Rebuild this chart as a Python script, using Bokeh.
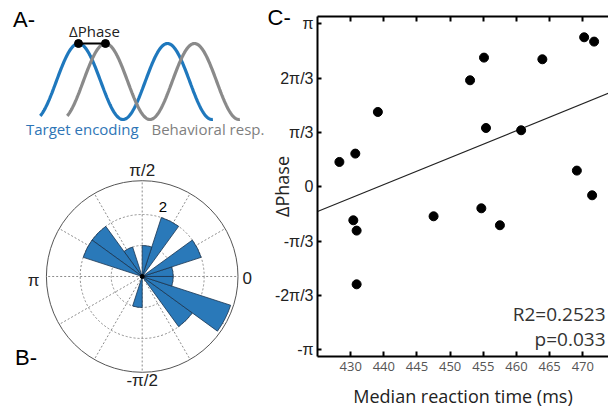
import numpy as np
from bokeh.plotting import figure
from bokeh.models import Range1d, LinearAxis, FixedTicker, Label, Title
from bokeh.layouts import row, column
from bokeh.embed import file_html
from bokeh.resources import INLINE

# ---------------- data ----------------
# Panel C: median reaction time (ms) vs phase difference (rad)
rt_ms = [433.3, 435.7, 439.1, 453.0, 455.1, 455.4, 460.7, 463.9, 470.2, 471.7,
         469.1, 471.4, 435.4, 435.9, 435.9, 447.5, 454.7, 457.5]
dphase = [0.479, 0.640, 1.443, 2.054, 2.491, 1.134, 1.090, 2.459, 2.883, 2.800,
          0.312, -0.164, -0.646, -0.845, -1.881, -0.569, -0.415, -0.742]
fit_x = [430.0, 473.9]
fit_y = [-0.476, 1.805]
x_ticks = [435, 440, 445, 450, 455, 460, 465, 470]
x_tick_labels = ["430", "440", "445", "450", "455", "460", "465", "470"]
y_ticks = [-np.pi, -2 * np.pi / 3, -np.pi / 3, 0.0, np.pi / 3, 2 * np.pi / 3, np.pi]
y_tick_labels = ["-π", "-2π/3", "-π/3", "0", "π/3", "2π/3", "π"]
stats_text = ["R2=0.2523", "p=0.033"]

# Panel B: rose histogram, 20 bins of 18 degrees starting at 0
bin_width_deg = 18
bin_counts = [1, 2, 0, 2, 1, 0, 1, 2, 2, 0, 0, 0, 0, 0, 1, 0, 0, 2, 3, 1]
ring_radii = [1, 2]
outer_radius = 3.09
spoke_deg = [0, 30, 60, 90, 120, 150, 180, 210, 240, 270, 300, 330]
polar_labels = ["π/2", "0", "π", "-π/2"]

# Panel A: schematic
phase_shift_cycles = 0.303

COND = "Liberation Sans"
SANS = "Open Sans"
ARIAL = "Liberation Sans"

LEFT_W = 266

# ---------------- panel A ----------------
pa = figure(width=LEFT_W, height=140, x_range=Range1d(-78 / 89, (LEFT_W - 78) / 89),
            y_range=Range1d(-59 / 38, 81 / 38), output_backend="svg",
            toolbar_location=None, x_axis_type=None, y_axis_type=None,
            min_border=0, outline_line_color=None)
pa.grid.visible = False
t = np.linspace(-0.43, 1.51, 300)
wave = np.cos(2 * np.pi * t)
pa.line(t, wave, line_color="#1f78bd", line_width=3.2)
pa.line(t + phase_shift_cycles, wave, line_color="#8a8a8a", line_width=3.2)
pa.line([0, phase_shift_cycles], [1, 1], line_color="black", line_width=2)
pa.scatter([0, phase_shift_cycles], [1, 1], size=8, color="black")
pa.add_layout(Label(x=-0.735, y=1.62, text="A-", text_font=ARIAL, text_font_size="22px",
                    text_baseline="middle", text_align="left", text_color="black"))
pa.add_layout(Label(x=0.18, y=1.33, text="ΔPhase", text_font=SANS, text_font_size="15px",
                    text_baseline="middle", text_align="center", text_color="#222222"))
pa.add_layout(Label(x=-0.59, y=-1.24, text="Target encoding", text_font=SANS,
                    text_font_size="15px", text_baseline="middle", text_align="left",
                    text_color="#2e75b6"))
pa.add_layout(Label(x=0.82, y=-1.24, text="Behavioral resp.", text_font=SANS,
                    text_font_size="15px", text_baseline="middle", text_align="left",
                    text_color="#7f7f7f"))

# ---------------- panel B ----------------
pb = figure(width=LEFT_W, height=271, x_range=Range1d(-141.7 / 31, (LEFT_W - 141.7) / 31),
            y_range=Range1d(-4.355, 4.387), output_backend="svg",
            toolbar_location=None, x_axis_type=None, y_axis_type=None,
            min_border=0, outline_line_color=None)
pb.grid.visible = False
sp = np.radians(spoke_deg)
pb.segment(x0=0, y0=0, x1=outer_radius * np.cos(sp), y1=outer_radius * np.sin(sp),
           line_color="#8c8c8c", line_dash="2 2", line_width=1)
pb.circle(x=[0] * len(ring_radii), y=[0] * len(ring_radii), radius=ring_radii,
          fill_color=None, line_color="#8c8c8c", line_dash="2 2", line_width=1)
pb.circle(x=[0], y=[0], radius=[outer_radius], fill_color=None,
          line_color="#555555", line_width=1)
starts, ends, rads = [], [], []
for k, c in enumerate(bin_counts):
    if c > 0:
        starts.append(np.radians(k * bin_width_deg))
        ends.append(np.radians((k + 1) * bin_width_deg))
        rads.append(c)
pb.wedge(x=0, y=0, radius=rads, start_angle=starts, end_angle=ends,
         fill_color="#2a79b9", line_color="#1b3550", line_width=0.8)
pb.scatter([0], [0], size=4, color="black")
label_pos = [(0, 3.42), (3.39, -0.06), (-3.5, -0.13), (0, -3.35)]
for (lx, ly), txt in zip(label_pos, polar_labels):
    pb.add_layout(Label(x=lx, y=ly, text=txt, text_font=COND, text_font_size="17px",
                        text_align="center", text_baseline="middle", text_color="#222222"))
pb.add_layout(Label(x=0.665, y=2.235, text="2", text_font=ARIAL, text_font_size="15px",
                    text_align="center", text_baseline="middle", text_color="black"))
pb.add_layout(Label(x=-4.1, y=-2.62, text="B-", text_font=ARIAL, text_font_size="22px",
                    text_align="left", text_baseline="middle", text_color="black"))

# ---------------- panel C ----------------
pc = figure(width=608 - LEFT_W, height=411, x_range=Range1d(430.0, 473.87),
            y_range=Range1d(-3.273, 3.284), output_backend="svg",
            toolbar_location=None, min_border_left=317 - LEFT_W, min_border_right=0,
            min_border_top=16, min_border_bottom=55, outline_line_color=None)
pc.grid.visible = False

xax = pc.xaxis[0]
xax.ticker = FixedTicker(ticks=x_ticks)
xax.major_label_overrides = dict(zip(x_ticks, x_tick_labels))
xax.major_tick_in = 5
xax.major_tick_out = 0
xax.major_tick_line_width = 2
xax.minor_tick_line_color = None
xax.axis_line_width = 2
xax.major_label_standoff = 5
xax.major_label_text_font = SANS
xax.major_label_text_font_size = "13px"
xax.major_label_text_color = "#555555"
xax.axis_label = "Median reaction time (ms)"
xax.axis_label_text_font = SANS
xax.axis_label_text_font_size = "18px"
xax.axis_label_text_font_style = "normal"
xax.axis_label_text_color = "#222222"
xax.axis_label_standoff = 10

yax = pc.yaxis[0]
yax.ticker = FixedTicker(ticks=y_ticks)
yax.major_label_overrides = dict(zip(y_ticks, y_tick_labels))
yax.major_tick_in = 4
yax.major_tick_out = 0
yax.major_tick_line_width = 2
yax.minor_tick_line_color = None
yax.axis_line_width = 2
yax.major_label_standoff = 4
yax.major_label_text_font = COND
yax.major_label_text_font_size = "16px"
yax.major_label_text_color = "#222222"
yax.axis_label = "ΔPhase"
yax.axis_label_text_font = SANS
yax.axis_label_text_font_size = "18px"
yax.axis_label_text_font_style = "normal"
yax.axis_label_text_color = "#222222"
yax.axis_label_standoff = -22

top = LinearAxis(ticker=FixedTicker(ticks=x_ticks), major_tick_in=5, major_tick_out=0,
                 major_tick_line_width=2, minor_tick_line_color=None, axis_line_width=2,
                 major_label_overrides={tk: "" for tk in x_ticks}, major_label_standoff=0)
pc.add_layout(top, "above")

pc.add_layout(Title(text="C-", align="left", offset=267 - 317, standoff=-26,
                    text_font=ARIAL, text_font_size="22px", text_font_style="normal",
                    text_color="black"), "above")

pc.line(fit_x, fit_y, line_color="#222222", line_width=1.2)
pc.scatter(rt_ms, dphase, size=9, color="black")

pc.add_layout(Label(x=473.42, y=-2.444, text=stats_text[0], text_font=SANS,
                    text_font_size="19px", text_align="right", text_baseline="middle",
                    text_color="#333333"))
pc.add_layout(Label(x=473.42, y=-2.926, text=stats_text[1], text_font=SANS,
                    text_font_size="19px", text_align="right", text_baseline="middle",
                    text_color="#333333"))

layout = row(column(pa, pb), pc)
open("out.html", "w").write(file_html(layout, INLINE))
